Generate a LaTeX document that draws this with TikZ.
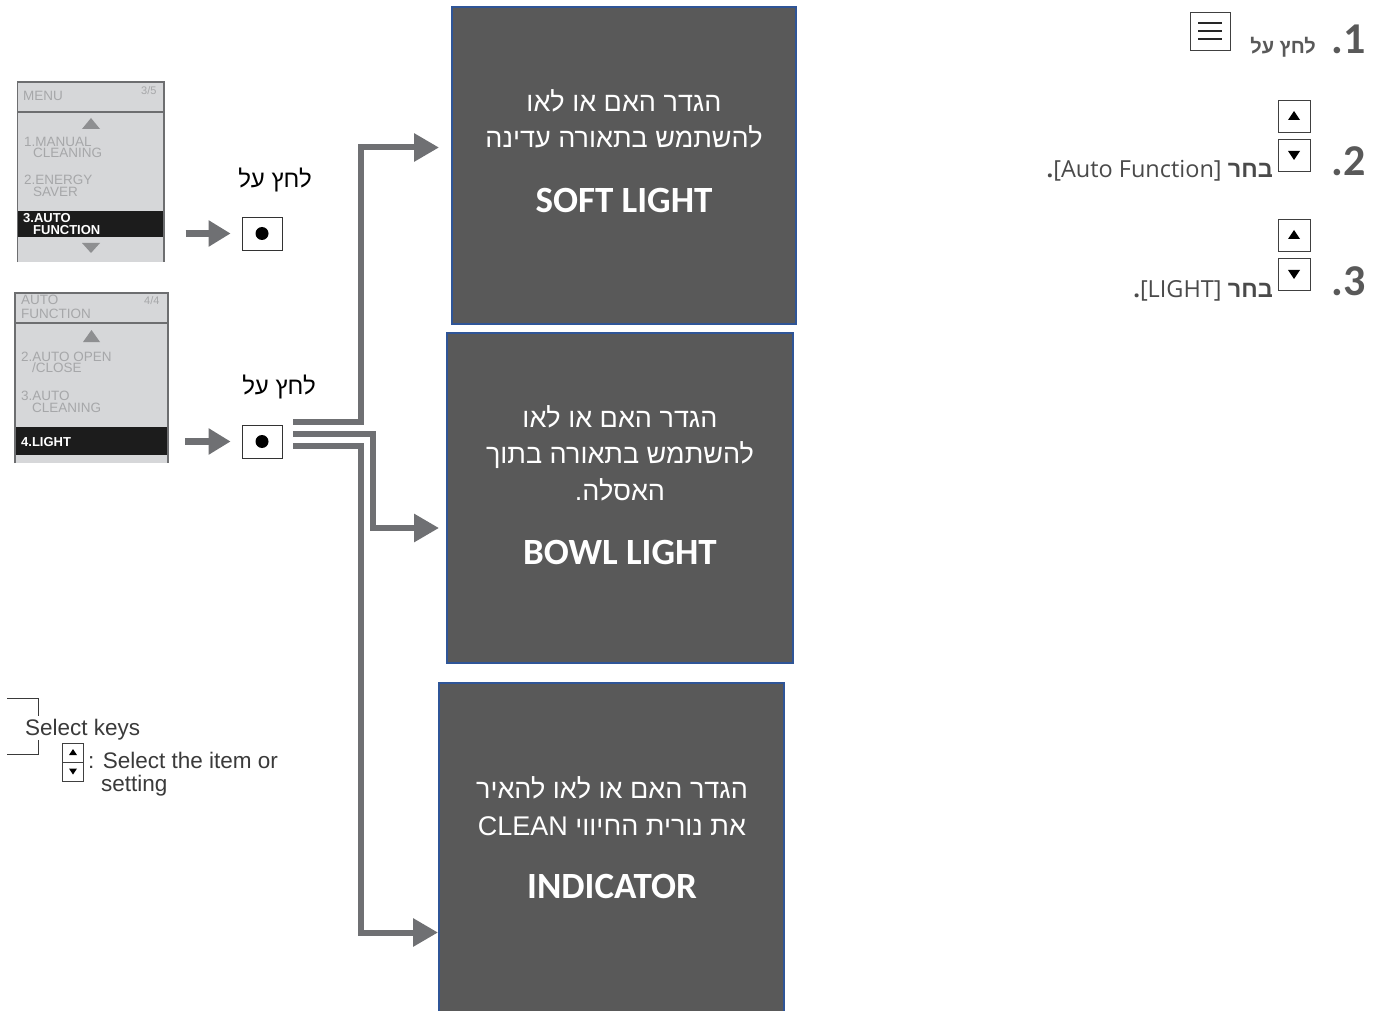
\documentclass[tikz,border=0pt]{standalone}
\usepackage{fontspec}
\setmainfont{Liberation Sans}
\newfontfamily\hebfont[Script=Hebrew]{Liberation Sans}
\newfontfamily\calfont{Carlito}
\newfontfamily\opfont{Open Sans}
\TeXXeTstate=1
\usepackage{tikz}
\usetikzlibrary{positioning,arrows.meta,calc}
\definecolor{lcdbg}{HTML}{D6D7D9}
\definecolor{lcdrim}{HTML}{6D6E70}
\definecolor{lcdtxt}{HTML}{A6A7A9}
\definecolor{lcdtri}{HTML}{8E8F91}
\definecolor{lcdband}{HTML}{1C1C1C}
\definecolor{arrgray}{HTML}{6F7073}
\definecolor{boxgray}{HTML}{595959}
\definecolor{boxblue}{HTML}{2F5597}
\definecolor{numgray}{HTML}{595959}
\definecolor{stepgray}{HTML}{4A4A4A}
\definecolor{leggray}{HTML}{3A3A3A}
\newcommand{\hebr}[1]{{\hebfont\beginR#1\endR}}

\begin{document}
\begin{tikzpicture}[x=1pt,y=-1pt,
  panel/.style={fill=lcdbg,inner sep=0pt},
  band/.style={fill=lcdband,inner sep=0pt},
  rim/.style={draw=lcdrim,line width=1.6pt},
  item/.style={anchor=base west,inner sep=0pt,text=lcdtxt,font=\fontsize{13.5}{13.5}\selectfont},
  hiitem/.style={item,text=white,font=\bfseries\fontsize{13}{13}\selectfont},
  push/.style={draw=arrgray,line width=7pt,-{Triangle[length=22pt,width=25pt]}},
  btn/.style={draw=black!80,line width=0.8pt,fill=white,minimum width=40pt,minimum height=33pt,inner sep=0pt},
  press/.style={anchor=base,inner sep=0pt,font=\hebfont\fontsize{24}{24}\selectfont},
  flow/.style={draw=arrgray,line width=6pt,line join=miter,-{Triangle[length=25pt,width=27pt]}},
  optbox/.style={draw=boxblue,line width=2pt,fill=boxgray,inner sep=0pt},
  optheb/.style={anchor=base,inner sep=0pt,text=white,font=\hebfont\fontsize{27}{27}\selectfont},
  opttitle/.style={anchor=base,inner sep=0pt,text=white,font=\calfont\bfseries\fontsize{37}{37}\selectfont},
  key/.style={draw=black!75,line width=0.8pt,fill=white,inner sep=0pt,minimum width=32pt,minimum height=32pt},
  minikey/.style={draw=black!75,line width=0.7pt,fill=white,inner sep=0pt,minimum width=21pt,minimum height=19pt},
  stepnum/.style={anchor=base east,inner sep=0pt,text=numgray,font=\calfont\bfseries\fontsize{44}{44}\selectfont},
  steptxt/.style={anchor=base east,inner sep=0pt,text=stepgray,font=\opfont\fontsize{23.5}{23.5}\selectfont},
  legend/.style={anchor=base west,inner sep=0pt,text=leggray,font=\fontsize{22.5}{22.5}\selectfont}]

\useasboundingbox (0,0) rectangle (1377,1011);
\fill[white] (0,0) rectangle (1377,1011);

% remote screen: MENU page
\node[panel,minimum width=146pt,minimum height=180pt] (menuA) at (90.5,172) {};
\node[band,minimum width=146pt,minimum height=26pt] (selA) at (90.5,224) {};
\draw[rim] (menuA.south west) |- (menuA.north east) -- (menuA.south east);
\draw[rim] (menuA.west |- 0,112) -- (menuA.east |- 0,112);
\foreach \t/\px/\py [count=\i] in {MENU/23/101,1.MANUAL/24/147,CLEANING/33/158,2.ENERGY/24/185,SAVER/33/197}
  \node[item] (ta\i) at (\px,\py) {\t};
\node[item,font=\fontsize{11}{11}\selectfont] (pgA) at (141,95) {3/5};
\node[hiitem] (ha1) at (23,223) {3.AUTO};
\node[hiitem] (ha2) at (33,235) {FUNCTION};
\fill[lcdtri] (91,118) -- (100,129) -- (82,129) -- cycle;
\fill[lcdtri] (82,243) -- (100,243) -- (91,253) -- cycle;

% remote screen: AUTO FUNCTION page
\node[panel,minimum width=153pt,minimum height=170pt] (menuB) at (91.5,378) {};
\node[band,minimum width=153pt,minimum height=28pt] (selB) at (91.5,441) {};
\draw[rim] (menuB.south west) |- (menuB.north east) -- (menuB.south east);
\draw[rim] (menuB.west |- 0,323) -- (menuB.east |- 0,323);
\foreach \t/\px/\py [count=\i] in {AUTO/21/305,FUNCTION/21/319,2.AUTO OPEN/21/361,{/CLOSE}/32/372,3.AUTO/21/400,CLEANING/32/412}
  \node[item] (tb\i) at (\px,\py) {\t};
\node[item,font=\fontsize{11}{11}\selectfont] (pgB) at (144,305) {4/4};
\node[hiitem] (hb1) at (21,446) {4.LIGHT};
\fill[lcdtri] (91.5,330) -- (100,342) -- (83,342) -- cycle;

% OK buttons
\node[btn] (btnA) at (262,233.5) {};
\fill (btnA) circle (6.5);
\node[btn] (btnB) at (262,441.5) {};
\fill (btnB) circle (6.5);
\node[press] (lblA) at (275,188) {\beginR לחץ על\endR};
\node[press] (lblB) at (279,394) {\beginR לחץ על\endR};
\draw[push] ($(menuA.east |- btnA)+(22,0)$) -- ($(btnA.west)+(-11,0)$);
\draw[push] ($(menuB.east |- btnB)+(17,0)$) -- ($(btnB.west)+(-11,0)$);

% option boxes
\node[optbox,minimum width=344pt,minimum height=317pt] (soft) at (624,165.5) {};
\node[optbox,minimum width=346pt,minimum height=330pt] (bowl) at (620,498) {};
\node[optbox,minimum width=345pt,minimum height=337pt] (ind) at (611.5,851.5) {};

\node[optheb] (softA) at (624,112) {\beginR הגדר האם או לאו\endR};
\node[optheb] (softB) at (624,148) {\beginR להשתמש בתאורה עדינה\endR};
\node[opttitle] (softT) at (624,213) {SOFT LIGHT};

\node[optheb] (bowlA) at (620,427) {\beginR הגדר האם או לאו\endR};
\node[optheb] (bowlB) at (620,463) {\beginR להשתמש בתאורה בתוך\endR};
\node[optheb] (bowlC) at (620,500) {.\beginR האסלה\endR};
\node[opttitle] (bowlT) at (620,564) {BOWL LIGHT};

\node[optheb] (indA) at (612,798) {\beginR הגדר האם או לאו להאיר\endR};
\node[optheb] (indB) at (612,835) {CLEAN \beginR את נורית החיווי\endR};
\node[opttitle] (indT) at (612,898) {INDICATOR};

% branches from the OK button
\draw[flow] ($(btnB.east)+(11,-20)$) -| ($(soft.west)+(-90,-18)$) -- ($(soft.west)+(-12,-18)$);
\draw[flow] ($(btnB.east)+(11,-8)$) -| ($(bowl.west)+(-73,30)$) -- ($(bowl.west)+(-7,30)$);
\draw[flow] ($(btnB.east)+(11,4)$) -| ($(ind.west)+(-77,81)$) -- ($(ind.west)+(0,81)$);

% steps on the right
\node[stepnum] (num1) at (1366,54) {.1};
\node[stepnum] (num2) at (1366,176) {.2};
\node[stepnum] (num3) at (1366,296) {.3};
\node[anchor=base east,inner sep=0pt,text=numgray,font=\hebfont\bfseries\fontsize{20}{20}\selectfont] (step1) at (1316,54) {\beginR לחץ על\endR};
\node[key,minimum width=40pt,minimum height=38pt] (menuK) at (1210,31) {};
\foreach \d in {-8,0,8} \draw[line width=2.8pt,black!85] ($(menuK)+(-12,\d)$) -- ++(24,0);

\node[key] (upK2) at (1294,116) {};
\node[key] (dnK2) at (1294,155) {};
\node[key] (upK3) at (1294,235) {};
\node[key] (dnK3) at (1294,274) {};
\foreach \k in {upK2,upK3} \fill ($(\k)+(0,-5)$) -- ++(6,9) -- ++(-12,0) -- cycle;
\foreach \k in {dnK2,dnK3} \fill ($(\k)+(-6,-4)$) -- ++(12,0) -- ++(-6,9) -- cycle;
\node[steptxt] (step2) at (1273,178) {{\bfseries.}[Auto Function] \hebr{\bfseries בחר}};
\node[steptxt] (step3) at (1273,298) {{\bfseries.}[LIGHT] \hebr{\bfseries בחר}};

% select keys legend
\draw[line width=0.9pt,leggray] (7,698) -- (38,698) -- (38,716);
\draw[line width=0.9pt,leggray] (38,740) -- (38,754) -- (7,754);
\node[legend] (selK) at (25,735) {Select keys};
\node[minikey] (upS) at (73,752.5) {};
\node[minikey] (dnS) at (73,771.5) {};
\fill ($(upS)+(0,-3.5)$) -- ++(4,6) -- ++(-8,0) -- cycle;
\fill ($(dnS)+(-4,-3)$) -- ++(8,0) -- ++(-4,6) -- cycle;
\node[legend] (selT1) at (88,768) {: Select the item or};
\node[legend] (selT2) at (101,791) {setting};
\end{tikzpicture}
\end{document}
